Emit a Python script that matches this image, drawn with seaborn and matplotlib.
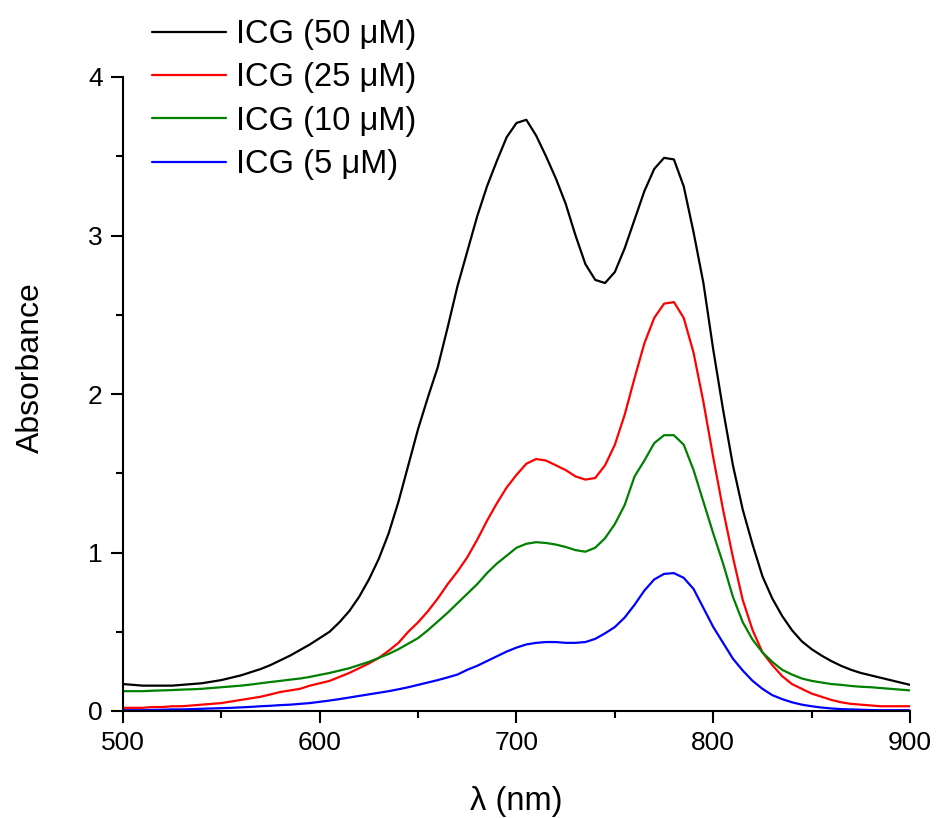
import numpy as np
import pandas as pd
import matplotlib
matplotlib.use("Agg")
import matplotlib.pyplot as plt
import seaborn as sns

wavelength = list(range(500, 901, 5))

icg_50 = [0.17, 0.165, 0.16, 0.16, 0.16, 0.16, 0.165, 0.17, 0.175, 0.185,
          0.195, 0.21, 0.225, 0.245, 0.265, 0.29, 0.32, 0.35, 0.385, 0.42,
          0.46, 0.50, 0.56, 0.63, 0.72, 0.83, 0.96, 1.12, 1.32, 1.55,
          1.78, 1.98, 2.17, 2.42, 2.68, 2.90, 3.12, 3.31, 3.47, 3.62,
          3.71, 3.73, 3.63, 3.50, 3.36, 3.20, 3.00, 2.82, 2.72, 2.70,
          2.77, 2.92, 3.10, 3.28, 3.42, 3.49, 3.48, 3.31, 3.02, 2.70,
          2.28, 1.90, 1.55, 1.27, 1.05, 0.85, 0.71, 0.60, 0.51, 0.44,
          0.39, 0.35, 0.315, 0.285, 0.26, 0.24, 0.225, 0.21, 0.195, 0.18,
          0.165]

icg_25 = [0.02, 0.02, 0.02, 0.025, 0.025, 0.03, 0.03, 0.035, 0.04, 0.045,
          0.05, 0.06, 0.07, 0.08, 0.09, 0.105, 0.12, 0.13, 0.14, 0.16,
          0.175, 0.19, 0.215, 0.24, 0.27, 0.30, 0.335, 0.38, 0.43, 0.50,
          0.56, 0.63, 0.71, 0.80, 0.88, 0.97, 1.08, 1.20, 1.31, 1.41,
          1.49, 1.56, 1.59, 1.58, 1.55, 1.52, 1.48, 1.46, 1.47, 1.55,
          1.68, 1.87, 2.10, 2.32, 2.48, 2.57, 2.58, 2.48, 2.26, 1.95,
          1.60, 1.27, 0.97, 0.70, 0.51, 0.37, 0.29, 0.22, 0.17, 0.14,
          0.11, 0.09, 0.07, 0.055, 0.045, 0.04, 0.035, 0.03, 0.03, 0.03,
          0.03]

icg_10 = [0.125, 0.125, 0.125, 0.128, 0.13, 0.132, 0.135, 0.137, 0.14, 0.145,
          0.15, 0.155, 0.16, 0.167, 0.175, 0.183, 0.19, 0.198, 0.205, 0.215,
          0.228, 0.24, 0.255, 0.27, 0.29, 0.31, 0.335, 0.36, 0.39, 0.425,
          0.46, 0.51, 0.565, 0.62, 0.68, 0.74, 0.80, 0.87, 0.93, 0.98,
          1.03, 1.055, 1.065, 1.06, 1.05, 1.035, 1.015, 1.005, 1.03, 1.09,
          1.18, 1.30, 1.48, 1.58, 1.69, 1.74, 1.74, 1.68, 1.52, 1.32,
          1.12, 0.93, 0.72, 0.56, 0.45, 0.37, 0.31, 0.26, 0.23, 0.205,
          0.19, 0.18, 0.17, 0.165, 0.158, 0.153, 0.15, 0.145, 0.14, 0.135,
          0.13]

icg_5 = [0.005, 0.005, 0.005, 0.007, 0.008, 0.01, 0.01, 0.012, 0.014, 0.016,
         0.018, 0.02, 0.023, 0.026, 0.03, 0.033, 0.037, 0.04, 0.045, 0.05,
         0.058, 0.066, 0.075, 0.085, 0.095, 0.105, 0.115, 0.125, 0.137, 0.15,
         0.165, 0.18, 0.195, 0.212, 0.23, 0.26, 0.285, 0.315, 0.345, 0.375,
         0.40, 0.42, 0.43, 0.435, 0.435, 0.43, 0.43, 0.435, 0.455, 0.49,
         0.53, 0.59, 0.67, 0.76, 0.83, 0.865, 0.87, 0.84, 0.77, 0.65,
         0.53, 0.43, 0.33, 0.255, 0.19, 0.14, 0.10, 0.075, 0.055, 0.04,
         0.03, 0.022, 0.016, 0.012, 0.01, 0.008, 0.006, 0.005, 0.005, 0.005,
         0.005]

series_labels = ["ICG (50 \u03bcM)", "ICG (25 \u03bcM)", "ICG (10 \u03bcM)", "ICG (5 \u03bcM)"]
series_values = [icg_50, icg_25, icg_10, icg_5]
series_colors = ["#000000", "#ff0000", "#008000", "#0000ff"]

x_ticks = [500, 600, 700, 800, 900]
y_ticks = [0, 1, 2, 3, 4]

frames = []
for lab, vals in zip(series_labels, series_values):
    frames.append(pd.DataFrame({"wavelength": wavelength, "absorbance": vals, "series": lab}))
df = pd.concat(frames, ignore_index=True)

sns.set_theme(style="ticks")
plt.rcParams["font.family"] = ["Liberation Sans", "DejaVu Sans"]
plt.rcParams["text.color"] = "black"
plt.rcParams["axes.labelcolor"] = "black"

fig = plt.figure(figsize=(9.37, 8.18), dpi=100)
ax = fig.add_axes([123 / 937, 1 - 711 / 818, (910 - 123) / 937, (711 - 77) / 818])

sns.lineplot(data=df, x="wavelength", y="absorbance", hue="series",
             hue_order=series_labels, palette=series_colors, linewidth=1.6,
             ax=ax, legend=False)

ax.set_xlim(500, 900)
ax.set_ylim(0, 4)
ax.set_xticks(x_ticks)
ax.set_yticks(y_ticks)
ax.set_xticks([550, 650, 750, 850], minor=True)
ax.set_yticks([0.5, 1.5, 2.5, 3.5], minor=True)
ax.tick_params(axis="both", which="major", direction="out", length=8.5, width=1.5,
               labelsize=19, pad=6, color="black", labelcolor="black")
ax.tick_params(axis="both", which="minor", direction="out", length=5, width=1.5, color="black")

for side in ["top", "right"]:
    ax.spines[side].set_visible(False)
for side in ["left", "bottom"]:
    ax.spines[side].set_linewidth(1.5)
    ax.spines[side].set_color("black")

ax.set_xlabel("\u03bb (nm)", fontsize=23.5, color="black")
ax.set_ylabel("Absorbance", fontsize=23, color="black")
ax.xaxis.set_label_coords(0.5, (711 - 786) / 634)
ax.yaxis.set_label_coords((46 - 123) / 787, (711 - 368) / 634)

handles = [matplotlib.lines.Line2D([], [], color=c, linewidth=1.6) for c in series_colors]
leg = ax.legend(handles, series_labels, loc="upper left",
                bbox_to_anchor=(152 / 937, 1 - 19 / 818), bbox_transform=fig.transFigure,
                frameon=False, fontsize=23.5, handlelength=2.27, handletextpad=0.31,
                labelspacing=0.38, borderpad=0.0, borderaxespad=0.0)
for t in leg.get_texts():
    t.set_color("black")

fig.savefig("out.png", dpi=100, facecolor="white")
